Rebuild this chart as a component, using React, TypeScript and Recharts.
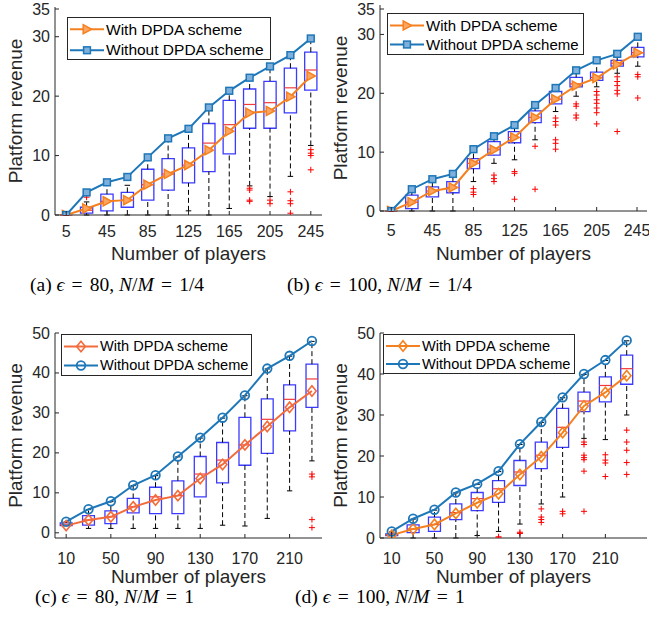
import React from "react";
import {
  ComposedChart,
  Line,
  Scatter,
  XAxis,
  YAxis,
  ReferenceArea,
  ReferenceLine,
  Legend,
} from "recharts";

// players on the x axis
const playersAB = [5, 25, 45, 65, 85, 105, 125, 145, 165, 185, 205, 225, 245];
const playersCD = [10, 30, 50, 70, 90, 110, 130, 150, 170, 190, 210, 230];
const xTicksAB = [5, 45, 85, 125, 165, 205, 245];
const xTicksCD = [10, 50, 90, 130, 170, 210];
const yTicksAB = [0, 10, 20, 30, 35];
const yTicksCD = [0, 10, 20, 30, 40, 50];

// (a) eps = 80, N/M = 1/4
const withA = [0, 1.1, 2.3, 2.5, 5.1, 6.9, 8.4, 10.9, 14.1, 17.2, 17.5, 19.9, 23.4];
const withoutA = [0, 3.8, 5.5, 6.4, 9.7, 12.9, 14.5, 18.1, 20.9, 23.1, 25.0, 26.9, 29.7];
const q1A = [0, 0.3, 0.7, 1.3, 2.5, 4.2, 5.4, 7.3, 10.3, 14.6, 14.6, 17.2, 21.0];
const medA = [0, 0.8, 2.3, 2.5, 5.1, 6.9, 8.4, 12.1, 15.2, 18.6, 18.9, 21.4, 24.4];
const q3A = [0, 1.3, 3.5, 3.8, 7.7, 9.5, 11.3, 15.4, 19.3, 21.2, 22.5, 24.7, 27.4];
const loA = [0, 0, 0, 0, 0, 0, 0.7, 0, 1.1, 4.9, 3.1, 6.5, 11.7];
const hiA = [0, 2.2, 5.0, 5.0, 9.6, 12.7, 14.3, 17.8, 20.9, 23.0, 24.9, 26.9, 29.6];
const outA = [
  [25, 3.8], [25, 3.0], [185, 4.5], [185, 4.2], [185, 2.5], [185, 2.3],
  [205, 2.5], [205, 1.9], [225, 3.9], [225, 2.4], [225, 1.9], [225, 0.3],
  [245, 11.0], [245, 10.4], [245, 10.0], [245, 7.6],
];

// (b) eps = 100, N/M = 1/4
const withB = [0, 1.5, 3.4, 4.0, 8.1, 10.4, 12.5, 15.9, 19.0, 21.3, 22.6, 24.9, 26.9];
const withoutB = [0, 3.7, 5.4, 6.3, 10.5, 12.7, 14.6, 18.0, 20.9, 23.9, 25.6, 26.7, 29.6];
const q1B = [0, 0.4, 2.4, 3.1, 7.2, 9.5, 11.6, 15.0, 18.2, 21.1, 22.2, 24.6, 26.2];
const medB = [0, 1.5, 3.4, 4.0, 8.1, 10.5, 12.5, 15.9, 19.0, 21.6, 22.7, 25.1, 26.9];
const q3B = [0, 2.7, 4.1, 5.0, 8.9, 11.8, 13.5, 17.0, 20.3, 22.7, 23.6, 25.6, 27.8];
const loB = [0, 0, 0, 0, 5.0, 8.1, 8.7, 12.1, 16.9, 19.5, 21.1, 23.4, 24.6];
const hiB = [0, 3.6, 5.3, 6.2, 10.4, 12.6, 14.5, 17.9, 20.8, 23.8, 25.5, 26.6, 29.5];
const outB = [
  [85, 3.8], [85, 3.2], [85, 2.8], [105, 6.1], [105, 5.5], [105, 5.0],
  [125, 6.7], [125, 6.4], [125, 2.0], [145, 11.0], [145, 3.7],
  [165, 15.8], [165, 15.2], [165, 14.6], [165, 12.1], [165, 11.5], [165, 10.5],
  [185, 18.2], [185, 17.8], [185, 16.3], [185, 15.8],
  [205, 20.3], [205, 19.7], [205, 18.9], [205, 18.3], [205, 17.5], [205, 16.7], [205, 14.8],
  [225, 22.8], [225, 22.0], [225, 21.3], [225, 20.5], [225, 19.9], [225, 13.5],
  [245, 23.2], [245, 22.8], [245, 19.2],
];

// (c) eps = 80, N/M = 1
const withC = [1.8, 3.2, 4.0, 6.5, 8.2, 9.3, 13.6, 17.1, 22.0, 26.6, 31.4, 35.5];
const withoutC = [2.8, 5.9, 7.9, 11.9, 14.4, 19.1, 23.8, 28.8, 34.4, 41.1, 44.3, 48.0];
const q1C = [1.8, 1.9, 2.3, 5.0, 4.8, 4.8, 9.0, 12.5, 16.9, 19.9, 25.5, 31.4];
const medC = [2.0, 3.2, 4.0, 6.5, 9.0, 9.3, 14.7, 18.2, 22.0, 28.4, 33.4, 38.5];
const q3C = [2.5, 4.3, 5.5, 8.6, 11.4, 13.0, 19.1, 22.6, 28.9, 33.5, 37.0, 42.2];
const loC = [1.8, 1.1, 1.1, 1.1, 1.1, 1.1, 1.1, 1.9, 1.7, 3.6, 10.5, 18.0];
const hiC = [2.7, 5.8, 7.8, 11.8, 14.3, 19.0, 23.7, 28.7, 34.3, 41.0, 44.2, 47.9];
const outC = [[230, 14.7], [230, 14.0], [230, 3.3], [230, 1.3]];

// (d) eps = 100, N/M = 1
const withD = [0.7, 2.2, 3.3, 6.0, 8.6, 10.8, 15.5, 19.8, 25.7, 32.2, 35.5, 39.6];
const withoutD = [1.6, 4.7, 6.9, 11.1, 13.2, 16.3, 22.9, 28.3, 34.3, 40.0, 43.4, 48.2];
const q1D = [0.6, 1.3, 1.6, 4.5, 6.7, 8.7, 12.8, 16.9, 22.1, 30.8, 33.2, 37.5];
const medD = [0.8, 2.2, 3.3, 6.2, 9.6, 12.0, 16.1, 20.2, 27.0, 33.4, 37.2, 41.3];
const q3D = [1.0, 3.2, 5.1, 8.3, 11.1, 14.0, 18.9, 23.4, 31.6, 35.6, 39.3, 44.6];
const loD = [0.6, 0, 0, 0, 0.6, 1.6, 3.4, 8.3, 10.0, 24.3, 24.0, 30.0];
const hiD = [1.5, 4.6, 6.8, 11.0, 13.1, 16.2, 22.8, 28.2, 34.2, 39.9, 43.3, 48.1];
const outD = [
  [110, 0.3], [110, 0], [130, 1.4], [130, 1.1],
  [150, 7.1], [150, 5.1], [150, 4.5], [150, 3.8], [170, 6.5], [170, 5.9],
  [190, 23.4], [190, 22.8], [190, 20.2], [190, 19.6], [190, 19.1], [190, 16.3], [190, 6.5],
  [210, 20.3], [210, 19.0], [210, 18.3], [210, 15.0],
  [230, 26.3], [230, 23.4], [230, 21.4], [230, 18.4], [230, 15.5],
];

const WITH = "With DPDA scheme";
const WITHOUT = "Without DPDA scheme";

const AX = "#262626";
const BLUE = "#1D77B8";
const ORANGE = "#F5801F";
const CORAL = "#F36B3B";
const BOX = "#3B3BFF";
const MED = "#F03A3A";
const SANS = '"Liberation Sans", Arial, Helvetica, sans-serif';
const SERIF = '"Liberation Serif", "Times New Roman", serif';

function marker(kind: string, color: string, cx: number, cy: number, key?: any) {
  if (cx == null || cy == null) return <g key={key} />;
  if (kind === "tri")
    return (
      <path key={key} d={`M${cx - 3.8},${cy - 4.6}L${cx + 4.6},${cy}L${cx - 3.8},${cy + 4.6}Z`}
        fill="#FBA560" stroke={color} strokeWidth={1.5} />
    );
  if (kind === "square")
    return <rect key={key} x={cx - 3.4} y={cy - 3.4} width={6.8} height={6.8} fill="#7FB0DC" stroke={color} strokeWidth={1.5} />;
  if (kind === "circle")
    return <circle key={key} cx={cx} cy={cy} r={4.3} fill="none" stroke={color} strokeWidth={1.8} />;
  return (
    <path key={key} d={`M${cx},${cy - 5.2}L${cx + 4.3},${cy}L${cx},${cy + 5.2}L${cx - 4.3},${cy}Z`}
      fill="none" stroke={color} strokeWidth={1.6} />
  );
}

function plus(p: any) {
  const { cx, cy } = p;
  if (cx == null) return <g />;
  return (
    <g>
      <line x1={cx - 3} x2={cx + 3} y1={cy} y2={cy} stroke="#FF0000" strokeWidth={1} />
      <line x1={cx} x2={cx} y1={cy - 3} y2={cy + 3} stroke="#FF0000" strokeWidth={1} />
    </g>
  );
}

const makeXTick = (dy: number) => (p: any) => (
  <g>
    <line x1={p.x} x2={p.x} y1={p.y} y2={p.y - 4} stroke={AX} />
    <text x={p.x} y={p.y + dy} textAnchor="middle" dominantBaseline="central"
      fontSize={16} fill={AX} fontFamily={SANS}>{p.payload.value}</text>
  </g>
);

const yTick = (p: any) => (
  <g>
    <line x1={p.x} x2={p.x + 4} y1={p.y} y2={p.y} stroke={AX} />
    <text x={p.x - 5} y={p.y} textAnchor="end" dominantBaseline="central"
      fontSize={16} fill={AX} fontFamily={SANS}>{p.payload.value}</text>
  </g>
);

interface PanelCfg {
  left: number;
  top: number;
  width: number;
  height: number;
  plotTop: number;
  plotBottom: number;
  right: number;
  xDomain: [number, number];
  yDomain: [number, number];
  xTicks: number[];
  yTicks: number[];
  tickDy: number;
  labelOffset: number;
  boxHalf: number;
  legend: { left: number; top: number; w: number; h: number; pad: number; rowH: number; font: number };
}

interface PanelProps {
  cfg: PanelCfg;
  players: number[];
  withV: number[];
  withoutV: number[];
  q1: number[];
  med: number[];
  q3: number[];
  lo: number[];
  hi: number[];
  outliers: number[][];
  withMarker: string;
  withoutMarker: string;
  withColor: string;
}

function Panel({ cfg, players, withV, withoutV, q1, med, q3, lo, hi, outliers, withMarker, withoutMarker, withColor }: PanelProps) {
  const rows = players.map((x, i) => ({ x, with: withV[i], without: withoutV[i] }));
  const outData = outliers.map(([x, y]) => ({ x, y }));
  const hw = cfg.boxHalf;
  const cap = hw * 0.45;
  const markers: Record<string, (cx: number, cy: number) => React.ReactNode> = {
    [WITH]: (cx, cy) => marker(withMarker, withColor, cx, cy),
    [WITHOUT]: (cx, cy) => marker(withoutMarker, BLUE, cx, cy),
  };
  const lg = cfg.legend;

  const renderLegend = (props: any) => {
    const items = (props.payload || []).filter((it: any) => markers[it.value]);
    return (
      <div style={{
        width: lg.w, height: lg.h, boxSizing: "border-box", border: `1px solid ${AX}`,
        background: "#fff", paddingTop: lg.pad, fontFamily: SANS, fontSize: lg.font, color: "#000",
      }}>
        {items.map((it: any) => (
          <div key={it.value} style={{ height: lg.rowH, display: "flex", alignItems: "center" }}>
            <svg width={38} height={lg.rowH} style={{ flex: "none" }}>
              <line x1={2} x2={36} y1={lg.rowH / 2} y2={lg.rowH / 2} stroke={it.color} strokeWidth={2} />
              {markers[it.value](19, lg.rowH / 2)}
            </svg>
            <span style={{ whiteSpace: "nowrap", lineHeight: 1 }}>{it.value}</span>
          </div>
        ))}
      </div>
    );
  };

  return (
    <div style={{ position: "absolute", left: cfg.left, top: cfg.top }}>
      <ComposedChart
        width={cfg.width}
        height={cfg.height}
        data={rows}
        margin={{ top: cfg.plotTop, right: cfg.width - cfg.right, left: 0, bottom: 0 }}
      >
        <XAxis
          dataKey="x"
          type="number"
          domain={cfg.xDomain}
          ticks={cfg.xTicks}
          allowDataOverflow
          height={cfg.height - cfg.plotBottom}
          tickLine={false}
          tickSize={0}
          tickMargin={0}
          stroke={AX}
          tick={makeXTick(cfg.tickDy)}
          label={{
            value: "Number of players",
            position: "insideBottom",
            offset: cfg.labelOffset,
            style: { fontSize: 19, fill: AX, fontFamily: SANS },
          }}
        />
        <YAxis
          type="number"
          domain={cfg.yDomain}
          ticks={cfg.yTicks}
          allowDataOverflow
          width={55}
          tickLine={false}
          tickSize={0}
          tickMargin={0}
          stroke={AX}
          tick={yTick}
          label={{
            value: "Platform revenue",
            angle: -90,
            position: "insideLeft",
            offset: 15,
            style: { fontSize: 19, fill: AX, fontFamily: SANS, textAnchor: "middle" },
          }}
        />
        <XAxis xAxisId="top" orientation="top" type="number" domain={cfg.xDomain} ticks={cfg.xTicks}
          allowDataOverflow height={0} mirror tick={false} tickSize={4} stroke={AX} />
        <YAxis yAxisId="right" orientation="right" type="number" domain={cfg.yDomain} ticks={cfg.yTicks}
          allowDataOverflow width={0} mirror tick={false} tickSize={4} stroke={AX} />

        {players.map((x, i) => (
          <ReferenceLine key={`wu${x}`} segment={[{ x, y: q3[i] }, { x, y: hi[i] }]}
            stroke="#000" strokeDasharray="5 3" strokeWidth={1} />
        ))}
        {players.map((x, i) => (
          <ReferenceLine key={`wl${x}`} segment={[{ x, y: lo[i] }, { x, y: q1[i] }]}
            stroke="#000" strokeDasharray="5 3" strokeWidth={1} />
        ))}
        {players.map((x, i) => (
          <ReferenceLine key={`cu${x}`} segment={[{ x: x - cap, y: hi[i] }, { x: x + cap, y: hi[i] }]}
            stroke="#000" strokeWidth={1} />
        ))}
        {players.map((x, i) => (
          <ReferenceLine key={`cl${x}`} segment={[{ x: x - cap, y: lo[i] }, { x: x + cap, y: lo[i] }]}
            stroke="#000" strokeWidth={1} />
        ))}
        {players.map((x, i) => (
          <ReferenceArea key={`b${x}`} x1={x - hw} x2={x + hw} y1={q1[i]} y2={q3[i]}
            fill="none" stroke={BOX} strokeWidth={1.3} fillOpacity={0} />
        ))}
        {players.map((x, i) => (
          <ReferenceLine key={`m${x}`} segment={[{ x: x - hw, y: med[i] }, { x: x + hw, y: med[i] }]}
            stroke={MED} strokeWidth={1.2} />
        ))}

        <Scatter data={outData} dataKey="y" shape={plus} legendType="none" isAnimationActive={false} />

        <Line
          dataKey="with"
          name={WITH}
          stroke={withColor}
          strokeWidth={2}
          isAnimationActive={false}
          dot={(p: any) => marker(withMarker, withColor, p.cx, p.cy, `d${p.index}`)}
        />
        <Line
          dataKey="without"
          name={WITHOUT}
          stroke={BLUE}
          strokeWidth={2}
          isAnimationActive={false}
          dot={(p: any) => marker(withoutMarker, BLUE, p.cx, p.cy, `d${p.index}`)}
        />
        <Legend
          layout="vertical"
          align="center"
          verticalAlign="middle"
          content={renderLegend}
          wrapperStyle={{ left: lg.left, top: lg.top, width: lg.w, height: lg.h }}
        />
      </ComposedChart>
    </div>
  );
}

function Caption({ left, top, tag, eps, ratio }: { left: number; top: number; tag: string; eps: string; ratio: string }) {
  const eq = <span style={{ margin: "0 0.12em" }}>=</span>;
  return (
    <div style={{ position: "absolute", left, top, fontFamily: SERIF, fontSize: 19.5, whiteSpace: "pre", color: "#000", lineHeight: 1 }}>
      {`(${tag}) `}<i>ϵ</i>{" "}{eq}{` ${eps}, `}<i>N</i>/<i>M</i>{" "}{eq}{` ${ratio}`}
    </div>
  );
}

const cfgA: PanelCfg = {
  left: 0, top: 0, width: 325, height: 265, plotTop: 7, plotBottom: 215, right: 322,
  xDomain: [-6, 256], yDomain: [0, 35], xTicks: xTicksAB, yTicks: yTicksAB,
  tickDy: 16, labelOffset: 5, boxHalf: 6,
  legend: { left: 67, top: 17, w: 204, h: 43, pad: 1, rowH: 20.5, font: 15.5 },
};
const cfgB: PanelCfg = {
  left: 325, top: 0, width: 324, height: 265, plotTop: 5, plotBottom: 211, right: 322,
  xDomain: [-6, 254], yDomain: [0, 35], xTicks: xTicksAB, yTicks: yTicksAB,
  tickDy: 19, labelOffset: 5, boxHalf: 6,
  legend: { left: 62, top: 13, w: 197, h: 42, pad: 2, rowH: 19, font: 15 },
};
const cfgC: PanelCfg = {
  left: 0, top: 320, width: 325, height: 268, plotTop: 13, plotBottom: 218, right: 322,
  xDomain: [0, 239], yDomain: [-1.3, 50], xTicks: xTicksCD, yTicks: yTicksCD,
  tickDy: 20, labelOffset: 5, boxHalf: 5.3,
  legend: { left: 61, top: 14, w: 191, h: 42, pad: 2, rowH: 19, font: 14.6 },
};
const cfgD: PanelCfg = {
  left: 325, top: 320, width: 324, height: 268, plotTop: 13, plotBottom: 218, right: 322,
  xDomain: [-1, 249], yDomain: [0, 50], xTicks: xTicksCD, yTicks: yTicksCD,
  tickDy: 20, labelOffset: 5, boxHalf: 5.6,
  legend: { left: 58, top: 14, w: 192, h: 40, pad: 2, rowH: 18, font: 14.6 },
};

export default function App() {
  return (
    <div style={{ position: "absolute", left: 0, top: 0, width: 649, height: 629, background: "#fff" }}>
      <Panel cfg={cfgA} players={playersAB} withV={withA} withoutV={withoutA} q1={q1A} med={medA} q3={q3A}
        lo={loA} hi={hiA} outliers={outA} withMarker="tri" withoutMarker="square" withColor={ORANGE} />
      <Panel cfg={cfgB} players={playersAB} withV={withB} withoutV={withoutB} q1={q1B} med={medB} q3={q3B}
        lo={loB} hi={hiB} outliers={outB} withMarker="tri" withoutMarker="square" withColor={ORANGE} />
      <Panel cfg={cfgC} players={playersCD} withV={withC} withoutV={withoutC} q1={q1C} med={medC} q3={q3C}
        lo={loC} hi={hiC} outliers={outC} withMarker="diamond" withoutMarker="circle" withColor={CORAL} />
      <Panel cfg={cfgD} players={playersCD} withV={withD} withoutV={withoutD} q1={q1D} med={medD} q3={q3D}
        lo={loD} hi={hiD} outliers={outD} withMarker="diamond" withoutMarker="circle" withColor={ORANGE} />
      <Caption left={30} top={275} tag="a" eps="80" ratio="1/4" />
      <Caption left={287} top={275} tag="b" eps="100" ratio="1/4" />
      <Caption left={35} top={587} tag="c" eps="80" ratio="1" />
      <Caption left={295} top={587} tag="d" eps="100" ratio="1" />
    </div>
  );
}
